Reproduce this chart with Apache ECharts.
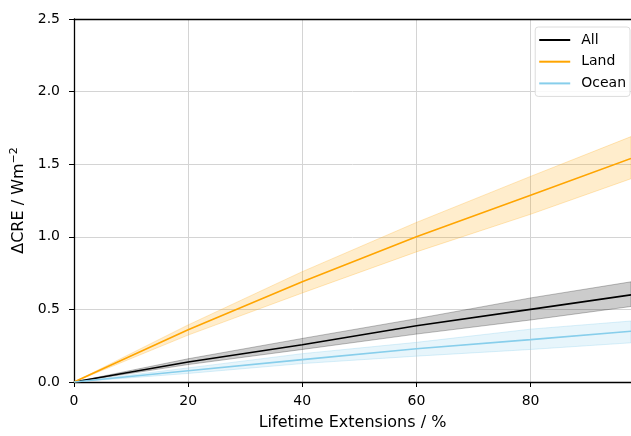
<!DOCTYPE html>
<html><head><meta charset="utf-8">
<script src="https://cdn.jsdelivr.net/npm/echarts@6/dist/echarts.min.js"></script>
<style>html,body{margin:0;padding:0;background:#fff}#c{width:631px;height:436px}</style>
</head><body><div id="c"></div>
<script>
const xVals = [0, 20, 40, 60, 80, 97.6];
const allMean = [0, 0.138, 0.256, 0.387, 0.50, 0.60];
const allLow  = [0, 0.12, 0.224, 0.33, 0.427, 0.52];
const allHigh = [0, 0.16, 0.30, 0.436, 0.579, 0.69];
const landMean = [0, 0.36, 0.69, 1.0, 1.287, 1.54];
const landLow  = [0, 0.323, 0.613, 0.896, 1.155, 1.40];
const landHigh = [0, 0.393, 0.76, 1.099, 1.416, 1.69];
const oceanMean = [0, 0.077, 0.154, 0.229, 0.292, 0.35];
const oceanLow  = [0, 0.059, 0.127, 0.178, 0.224, 0.27];
const oceanHigh = [0, 0.097, 0.195, 0.273, 0.364, 0.42];
const xTicks = [0, 20, 40, 60, 80];
const yTicks = [0.0, 0.5, 1.0, 1.5, 2.0, 2.5];

const font = 'DejaVu Sans';
const pts = (ys) => xVals.map((x, i) => [x, ys[i]]);

function band(lo, hi, fill, edge) {
  return {
    type: 'custom', silent: true, z: 1,
    data: xVals.map((x, i) => [x, lo[i], hi[i]]),
    encode: { x: 0, y: [1, 2] },
    renderItem: function (params, api) {
      if (params.dataIndex !== 0) return null;
      const top = xVals.map((x, i) => api.coord([x, hi[i]]));
      const bot = xVals.map((x, i) => api.coord([x, lo[i]])).reverse();
      return {
        type: 'polygon',
        shape: { points: top.concat(bot) },
        style: { fill: fill, stroke: edge, lineWidth: 1 }
      };
    }
  };
}

const chart = echarts.init(document.getElementById('c'));
chart.setOption({
  animation: false,
  textStyle: { fontFamily: font },
  grid: { left: 74, right: 0, top: 19, bottom: 49 },
  legend: {
    data: ['All', 'Land', 'Ocean'],
    orient: 'vertical', right: 1, top: 27,
    icon: 'rect', itemWidth: 31, itemHeight: 2, itemGap: 5.7,
    backgroundColor: 'rgba(255,255,255,0.85)', borderColor: '#dcdcdc', borderWidth: 1, borderRadius: 3,
    padding: [5, 4, 5, 4],
    textStyle: { fontFamily: font, fontSize: 14, lineHeight: 16, color: '#000', padding: [0, 0, 0, 6] }
  },
  xAxis: [{
    type: 'value', min: 0, max: 97.6, interval: 20,
    name: 'Lifetime Extensions / %', nameLocation: 'middle', nameGap: 33,
    nameTextStyle: { fontFamily: font, fontSize: 16, color: '#000' },
    axisLine: { show: true, lineStyle: { color: '#000', width: 1.3 } },
    axisTick: { show: true, length: 5, lineStyle: { color: '#000' } },
    axisLabel: { showMaxLabel: false, fontFamily: font, fontSize: 14, color: '#000', margin: 12,
      formatter: v => xTicks.includes(v) ? String(v) : '' },
    splitLine: { show: true, lineStyle: { color: '#d4d4d4', width: 1 } }
  }, {
    type: 'value', position: 'top', min: 0, max: 97.6,
    axisLine: { show: true, lineStyle: { color: '#000', width: 1.3 } },
    axisTick: { show: false }, axisLabel: { show: false }, splitLine: { show: false }
  }],
  yAxis: {
    type: 'value', min: 0, max: 2.5, interval: 0.5,
    name: 'ΔCRE / Wm{sup|−2}', nameLocation: 'middle', nameRotate: 90, nameGap: 39,
    nameTextStyle: { fontFamily: font, fontSize: 16, color: '#000',
      rich: { sup: { fontFamily: font, fontSize: 11, color: '#000', verticalAlign: 'top', padding: [0, 0, 9, 0] } } },
    axisLine: { show: true, lineStyle: { color: '#000', width: 1.3 } },
    axisTick: { show: true, length: 5, lineStyle: { color: '#000' } },
    axisLabel: { fontFamily: font, fontSize: 14, color: '#000', margin: 14,
      formatter: v => yTicks.includes(v) ? v.toFixed(1) : '' },
    splitLine: { show: true, lineStyle: { color: '#d4d4d4', width: 1 } }
  },
  series: [
    band(landLow, landHigh, 'rgba(255,165,0,0.2)', 'rgba(255,165,0,0.25)'),
    band(allLow, allHigh, 'rgba(0,0,0,0.2)', 'rgba(0,0,0,0.25)'),
    band(oceanLow, oceanHigh, 'rgba(135,206,235,0.2)', 'rgba(135,206,235,0.3)'),
    { type: 'line', name: 'All', data: pts(allMean), symbol: 'none',
      lineStyle: { color: '#000', width: 1.6 }, itemStyle: { color: '#000' }, z: 3 },
    { type: 'line', name: 'Land', data: pts(landMean), symbol: 'none',
      lineStyle: { color: '#FFA500', width: 1.6 }, itemStyle: { color: '#FFA500' }, z: 3 },
    { type: 'line', name: 'Ocean', data: pts(oceanMean), symbol: 'none',
      lineStyle: { color: '#87CEEB', width: 1.6 }, itemStyle: { color: '#87CEEB' }, z: 3 }
  ]
});
</script></body></html>
